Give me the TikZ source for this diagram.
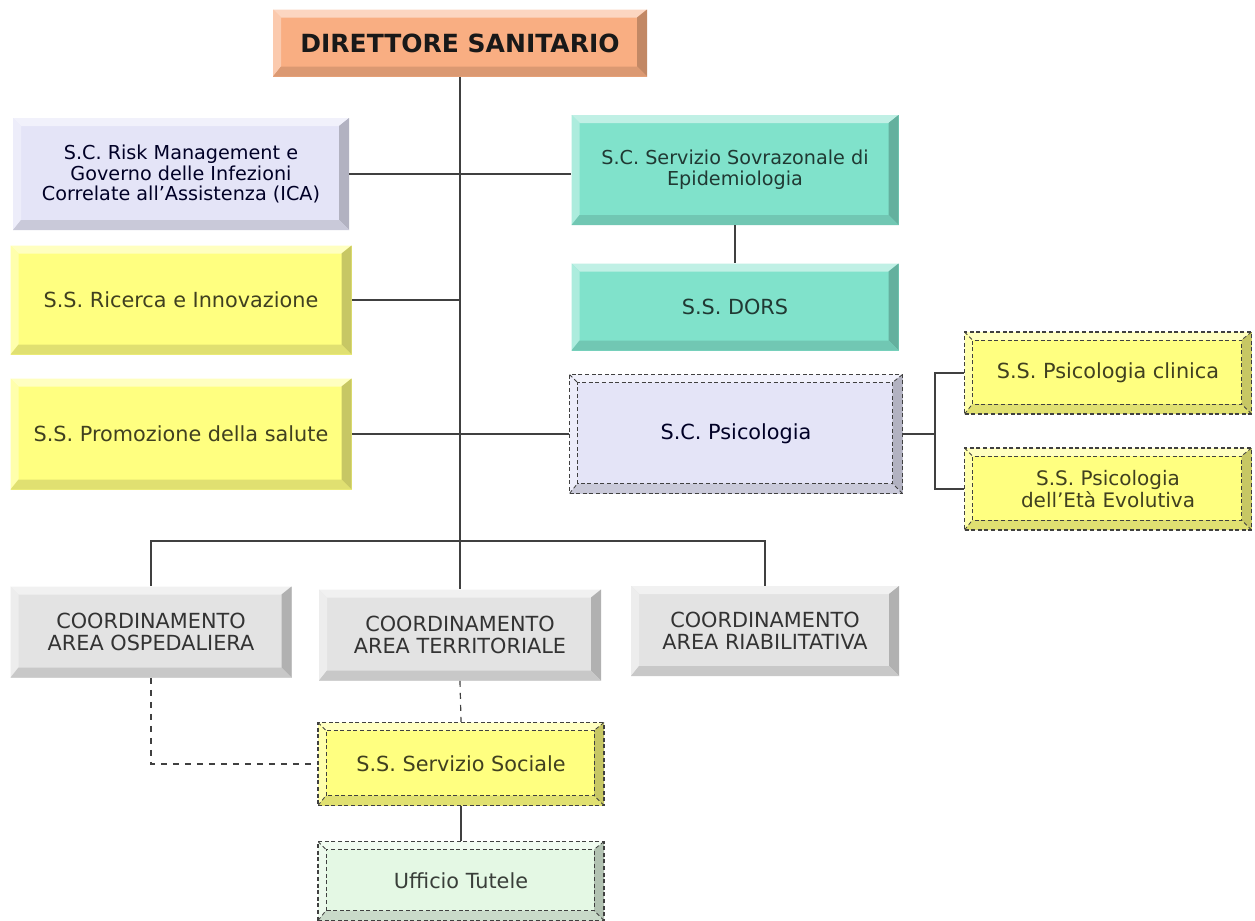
\documentclass[tikz,border=0pt]{standalone}
\usepackage{fontspec}
\setmainfont{DejaVu Sans}
\usepackage{xcolor}
\usetikzlibrary{calc}

\definecolor{dirfill}{HTML}{F9AE82}
\definecolor{lavfill}{HTML}{E4E4F7}
\definecolor{tealfill}{HTML}{80E2CB}
\definecolor{yelfill}{HTML}{FFFF80}
\definecolor{grayfill}{HTML}{E3E3E3}
\definecolor{greenfill}{HTML}{E4F8E4}
\definecolor{linea}{HTML}{404040}

\tikzset{
  riquadro/.style={rectangle, fill=#1, inner sep=2pt, align=center,
    font=\fontsize{10.4}{10.8}\selectfont,
    path picture={
      \coordinate (sw) at (path picture bounding box.south west);
      \coordinate (ne) at (path picture bounding box.north east);
      \fill[#1!50!white] (sw|-ne) -- (ne) -- ($(ne)+(-5pt,-4pt)$) -- ($(sw|-ne)+(4pt,-4pt)$) -- cycle;
      \fill[#1!65!white] (sw|-ne) -- (sw) -- ($(sw)+(4pt,5pt)$) -- ($(sw|-ne)+(4pt,-4pt)$) -- cycle;
      \fill[#1!78!black] (ne) -- (ne|-sw) -- ($(ne|-sw)+(-5pt,5pt)$) -- ($(ne)+(-5pt,-4pt)$) -- cycle;
      \fill[#1!88!black] (sw) -- (ne|-sw) -- ($(ne|-sw)+(-5pt,5pt)$) -- ($(sw)+(4pt,5pt)$) -- cycle;
    }},
  tratteggio/.style={draw=linea, dash pattern=on 2pt off 1.3pt, line width=0.6pt,
    postaction={path picture={
      \coordinate (sw) at (path picture bounding box.south west);
      \coordinate (ne) at (path picture bounding box.north east);
      \draw[linea, dash pattern=on 2pt off 1.3pt, line width=0.5pt]
        ($(sw)+(4pt,5pt)$) rectangle ($(ne)+(-5pt,-4pt)$);
      \draw[linea, line width=0.4pt] (sw|-ne) -- ($(sw|-ne)+(4pt,-4pt)$)
        (ne) -- ($(ne)+(-5pt,-4pt)$) (sw) -- ($(sw)+(4pt,5pt)$)
        (ne|-sw) -- ($(ne|-sw)+(-5pt,5pt)$);
    }}},
  collegamento/.style={draw=linea, line width=0.6pt},
  piccolo/.style={font=\fontsize{9.6}{10.4}\selectfont},
}

\begin{document}
\begin{tikzpicture}[x=0.5pt, y=-0.5pt]
\useasboundingbox[fill=white] (0,0) rectangle (1255,921);

% Direzione
\node[riquadro=dirfill, minimum width=187pt, minimum height=33.5pt,
  font=\fontsize{12.5}{14}\selectfont\bfseries, text=black!90] (dir) at (460,43) {DIRETTORE SANITARIO};

% Colonna sinistra
\node[riquadro=lavfill, piccolo, text=black!70!blue!50!black, minimum width=168pt, minimum height=56pt] (risk) at (181,174)
  {S.C. Risk Management e\\Governo delle Infezioni\\Correlate all’Assistenza (ICA)};
\node[riquadro=yelfill, text=yelfill!25!black, minimum width=170.5pt, minimum height=54.5pt] (ricerca) at (181,300)
  {S.S. Ricerca e Innovazione};
\node[riquadro=yelfill, text=yelfill!25!black, minimum width=170.5pt, minimum height=55.5pt] (promo) at (181,434)
  {S.S. Promozione della salute};

% Colonna destra
\node[riquadro=tealfill, piccolo, text=tealfill!25!black, minimum width=163.5pt, minimum height=55pt] (epid) at (735,170)
  {S.C. Servizio Sovrazonale di\\Epidemiologia};
\node[riquadro=tealfill, text=tealfill!25!black, minimum width=163.5pt, minimum height=43.5pt] (dors) at (735,307)
  {S.S. DORS};
\node[riquadro=lavfill, tratteggio, text=black!70!blue!50!black, minimum width=166.5pt, minimum height=59.5pt] (psic) at (736,434)
  {S.C. Psicologia};
\node[riquadro=yelfill, tratteggio, text=yelfill!25!black, minimum width=143.5pt, minimum height=41pt] (clin) at (1108,373)
  {S.S. Psicologia clinica};
\node[riquadro=yelfill, tratteggio, text=yelfill!25!black, font=\fontsize{10}{10.8}\selectfont,
  minimum width=143.5pt, minimum height=41pt] (evol) at (1108,489)
  {S.S. Psicologia\\dell’Età Evolutiva};

% Coordinamenti
\node[riquadro=grayfill, text=black!80, minimum width=140.5pt, minimum height=45.5pt] (osp) at (151,632)
  {COORDINAMENTO\\AREA OSPEDALIERA};
\node[riquadro=grayfill, text=black!80, minimum width=141pt, minimum height=45.5pt] (terr) at (460,635)
  {COORDINAMENTO\\AREA TERRITORIALE};
\node[riquadro=grayfill, text=black!80, minimum width=134pt, minimum height=45pt] (riab) at (765,631)
  {COORDINAMENTO\\AREA RIABILITATIVA};

% Servizio sociale
\node[riquadro=yelfill, tratteggio, text=yelfill!25!black, minimum width=143pt, minimum height=41.5pt] (soc) at (461,764)
  {S.S. Servizio Sociale};
\node[riquadro=greenfill, tratteggio, text=greenfill!25!black, minimum width=143pt, minimum height=39.5pt] (uff) at (461,881)
  {Ufficio Tutele};

% Collegamenti
\coordinate (split) at (460,541);
\coordinate (fork) at (935,434);
\draw[collegamento] (dir.south) -- (terr.north);
\draw[collegamento] (osp.north) |- (split) -| (riab.north);
\draw[collegamento] (risk.east) -- (risk.east -| epid.west);
\draw[collegamento] (ricerca.east) -- (ricerca.east -| dir.south);
\draw[collegamento] (promo.east) -- (psic.west);
\draw[collegamento] (epid.south) -- (dors.north);
\draw[collegamento] (psic.east) -- (fork);
\draw[collegamento] (clin.west) -| (fork) |- (evol.west);
\draw[collegamento, dashed] (osp.south) |- (soc.west);
\draw[collegamento, dashed] (terr.south) -- (soc.north);
\draw[collegamento] (soc.south) -- (uff.north);

\end{tikzpicture}
\end{document}
